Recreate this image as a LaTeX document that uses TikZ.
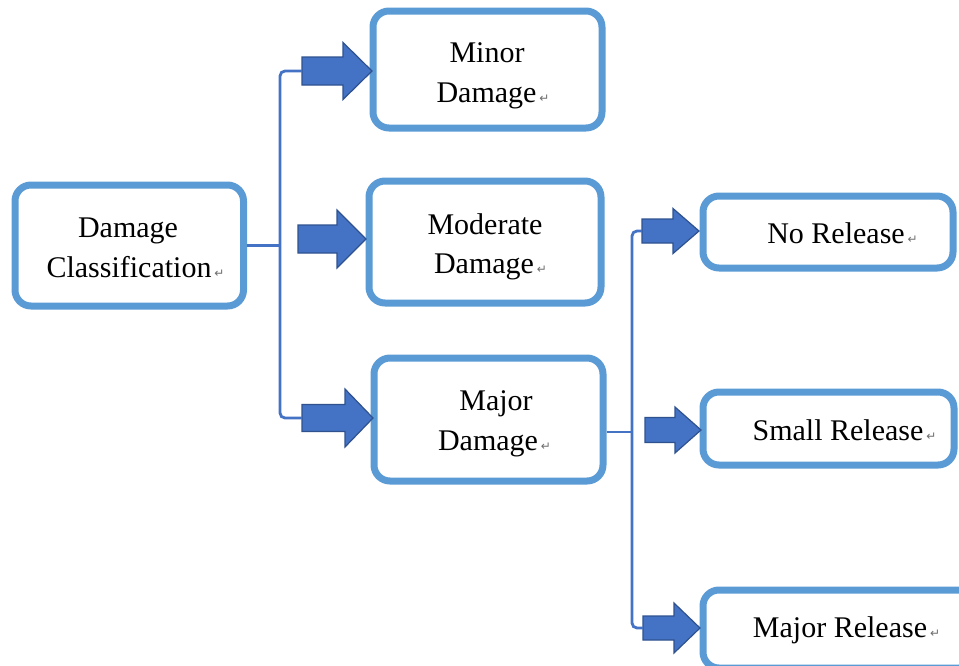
\documentclass[tikz,border=0pt]{standalone}
\usepackage{fontspec}
\setmainfont{Liberation Serif}
\newfontfamily\dejavu{DejaVu Sans}
\definecolor{boxblue}{HTML}{5B9BD5}
\definecolor{linkblue}{HTML}{4472C4}
\definecolor{arrowedge}{HTML}{2F528F}
\definecolor{markgray}{HTML}{6E6E6E}
\newcommand{\retmark}{\rlap{\hspace{3pt}{\dejavu\fontsize{12}{12}\selectfont\color{markgray}↵}}}
% name, tail x, head x, tip x, centre y, body half height, head half height
\newcommand{\barrow}[7]{%
  \draw[blockarrow] (#2,#5-#6) -- (#3,#5-#6) -- (#3,#5-#7) -- (#4,#5)
    -- (#3,#5+#7) -- (#3,#5+#6) -- (#2,#5+#6) -- cycle;
  \coordinate (#1) at (#2,#5);
  \coordinate (#1-tip) at (#4,#5);}
\tikzset{
  box/.style={draw=boxblue, line width=7pt, rounded corners=16pt, fill=white,
    rectangle, inner sep=0pt},
  lbl/.style={inner sep=0pt, anchor=base, font=\fontsize{30}{36}\selectfont},
  conn/.style={draw=linkblue, line width=2.8pt, rounded corners=5pt},
  blockarrow/.style={fill=linkblue, draw=arrowedge, line width=1.2pt, line join=miter},
}
\begin{document}
\begin{tikzpicture}[x=1pt, y=-1pt]
\useasboundingbox (0,0) rectangle (959,665);
\clip (0,0) rectangle (959,665);
\fill[white] (0,0) rectangle (959,665);

% boxes
\node[box, minimum width=228.5pt, minimum height=121pt] (dc) at (129.25,245.5) {};
\node[box, minimum width=229pt, minimum height=117pt] (minor) at (487.5,69.5) {};
\node[box, minimum width=232pt, minimum height=122pt] (moderate) at (485,242) {};
\node[box, minimum width=229pt, minimum height=123pt] (major) at (488.5,419.5) {};
\node[box, minimum width=250pt, minimum height=72pt] (norel) at (828,232) {};
\node[box, minimum width=251pt, minimum height=73pt] (smallrel) at (828.5,428.5) {};
\node[box, minimum width=272pt, minimum height=78pt] (majrel) at (839,629) {};

% texts
\node[lbl] (dc1) at (128,237) {Damage};
\node[lbl] (dc2) at (129,277) {Classification\retmark};
\node[lbl] (mi1) at (487,62) {Minor};
\node[lbl] (mi2) at (486.5,102) {Damage\retmark};
\node[lbl] (mo1) at (485,234) {Moderate};
\node[lbl] (mo2) at (484,273) {Damage\retmark};
\node[lbl] (ma1) at (496,410) {Major};
\node[lbl] (ma2) at (488,450) {Damage\retmark};
\node[lbl] (nr) at (836,243) {No Release\retmark};
\node[lbl] (sr) at (838,440) {Small Release\retmark};
\node[lbl] (mr) at (840,637) {Major Release\retmark};

% block arrows
\barrow{a1}{302}{343}{372}{71}{14}{28.5}
\barrow{a2}{298}{337}{366}{239}{14}{29}
\barrow{a3}{302}{345}{373}{418}{13.5}{29}
\barrow{a4}{642}{673}{699}{231}{12}{22.5}
\barrow{a5}{645}{675}{701}{430}{12.5}{23}
\barrow{a6}{643}{674}{700}{628}{12}{25}

% connectors
\coordinate (jL) at (280,245.5);
\coordinate (jR) at (632,432);
\draw[conn] (dc.east) -- (jL);
\draw[conn] (a1) -- (a1 -| jL) -- (a3 -| jL) -- (a3);
\draw[conn] (jR -| major.east) -- (jR);
\draw[conn] (a4) -- (a4 -| jR) -- (a6 -| jR) -- (a6);
\end{tikzpicture}
\end{document}
